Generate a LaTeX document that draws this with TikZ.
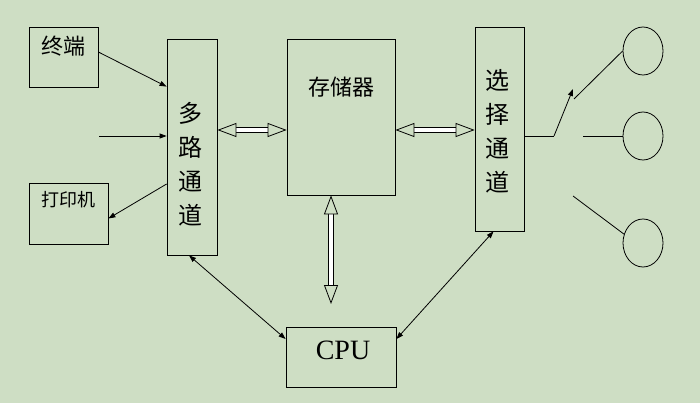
\documentclass[tikz,border=0pt]{standalone}
\usepackage{fontspec}
\setmainfont{Liberation Serif}
\newfontfamily\cjkfont{Noto Sans CJK SC}
\usepackage{tikz}
\usetikzlibrary{arrows.meta, positioning, calc, shapes.geometric}

\definecolor{slidebg}{RGB}{206,222,196}

\begin{document}
\begin{tikzpicture}[
  x=1pt, y=-1pt,
  line width=0.8pt,
  box/.style={draw, rectangle, inner sep=0pt},
  disk/.style={draw, ellipse, minimum width=40pt, minimum height=48pt, inner sep=0pt},
  cjk/.style={font=\cjkfont\fontsize{#1}{#1}\selectfont},
  vtext/.style={font=\cjkfont\fontsize{24}{34}\selectfont, align=center},
  arr/.style={-{Triangle[length=7pt,width=5pt]}},
  darr/.style={{Triangle[length=7pt,width=5pt]}-{Triangle[length=7pt,width=5pt]}},
  bus/.style={double, double distance=4pt, line width=0.8pt,
    {Triangle[open,length=19pt,width=14pt,fill=slidebg]}-{Triangle[open,length=19pt,width=14pt,fill=slidebg]}},
]
\fill[slidebg] (0,0) rectangle (700,403);
\useasboundingbox (0,0) rectangle (700,403);

% boxes
\node[box, minimum width=69pt, minimum height=60pt,
      label={[cjk=22, yshift=11pt]center:终端}] (term) at (63.5,57) {};
\node[box, minimum width=79pt, minimum height=61pt,
      label={[cjk=18, yshift=14pt]center:打印机}] (prn) at (68.5,213.5) {};
\node[box, minimum width=50pt, minimum height=216pt] (mux) at (192,147) {};
\node[vtext] at (190,164) {多\\路\\通\\道};
\node[box, minimum width=108pt, minimum height=156pt,
      label={[cjk=22, yshift=30pt]center:存储器}] (mem) at (341,117) {};
\node[box, minimum width=49pt, minimum height=204pt] (sel) at (499.5,129) {};
\node[vtext] at (497,131) {选\\择\\通\\道};
\node[box, minimum width=110pt, minimum height=60pt,
      label={[font=\fontsize{28}{28}\selectfont, xshift=2pt, yshift=7pt]center:CPU}] (cpu) at (341,357) {};

% devices
\node[disk] (d1) at (643,51) {};
\node[disk] (d2) at (643,136) {};
\node[disk] (d3) at (643,243) {};

% free ends
\coordinate (in) at (99,136);
\coordinate (memout) at (331,304);
\coordinate (sw) at (554,136);
\coordinate (swtip) at (573,89);
\coordinate (c1) at (574,99);
\coordinate (c2) at (583,136);
\coordinate (c3) at (573,196);

% terminals and printer
\draw[arr] ([yshift=5pt]term.east) -- ([yshift=-48pt]mux.north west);
\draw[arr] (in) -- (mux.west |- in);
\draw[arr] ([yshift=-37pt]mux.west) -- ([yshift=-5pt]prn.east);

% buses
\draw[bus] (mux.east |- 0,130) -- (mem.west |- 0,130);
\draw[bus] (mem.east |- 0,130) -- (sel.west |- 0,130);
\draw[bus] ([xshift=-10pt]mem.south) -- (memout);

% cpu links
\draw[darr] ([xshift=-3pt]mux.south) -- (cpu.162);
\draw[darr] ([xshift=-6pt]sel.south) -- (cpu.18);

% selector switch
\draw (sel.east |- sw) -- (sw);
\draw[arr] (sw) -- (swtip);
\draw (c1) -- (d1.west);
\draw (c2) -- (d2.west);
\draw (c3) -- (d3.155);
\end{tikzpicture}
\end{document}
